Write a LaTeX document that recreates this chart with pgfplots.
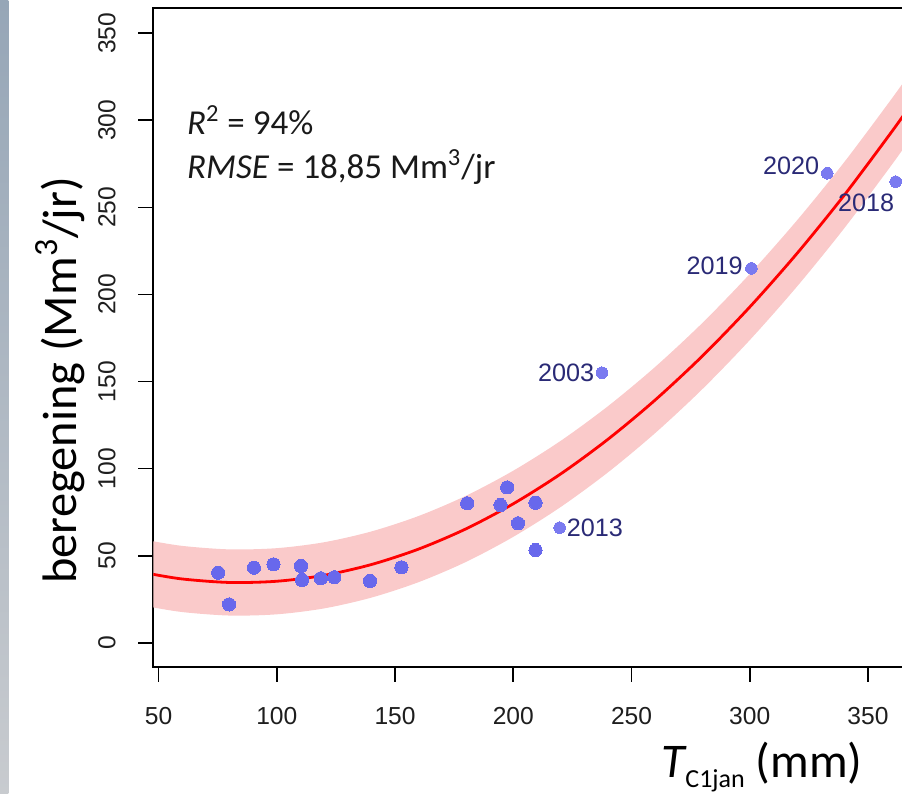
\documentclass[border=0pt]{standalone}
\usepackage{pgfplots}
\pgfplotsset{compat=1.18}
\usepgfplotslibrary{fillbetween}
\usepackage{fontspec}
\setmainfont{Carlito}
\newfontfamily\arialf{Liberation Sans}
\definecolor{bandcol}{RGB}{250,202,202}
\definecolor{ptcol}{RGB}{104,104,236}
\definecolor{ptcolb}{RGB}{122,122,240}
\definecolor{yearcol}{RGB}{42,42,118}
\definecolor{tickgray}{RGB}{30,30,30}
\definecolor{stripA}{RGB}{150,166,183}
\definecolor{stripB}{RGB}{200,203,207}
\begin{document}
\begin{tikzpicture}
\shade[top color=stripA, bottom color=stripB] (-76.65pt,-63.65pt) rectangle (-72.4pt,333.35pt);
\begin{axis}[
  scale only axis, width=376.3pt, height=329.2pt,
  xmin=47.76, xmax=366.03, ymin=-13.78, ymax=364.36,
  axis line style={line width=0.9pt, black},
  tick style={line width=0.9pt, black},
  tick align=outside, tick pos=left, major tick length=7.5pt,
  xtick={50,100,...,350}, ytick={0,50,...,350},
  /pgf/number format/assume math mode=true,
  tick label style={font=\arialf\fontsize{12.3}{14}\selectfont, text=tickgray},
  yticklabel style={rotate=90, anchor=base, inner sep=0pt},
  xticklabel style={anchor=north, inner sep=0pt},
  yticklabel shift=11.5pt,
  xticklabel shift=12.75pt,
  xlabel={{\itshape T}\raisebox{-5pt}{\fontsize{13}{15}\selectfont C1jan} (mm)},
  ylabel={beregening (Mm\textsuperscript{3}/jr)},
  label style={font=\fontsize{24.2}{28}\selectfont},
  xlabel style={at={(axis description cs:0.809,-0.169)}, anchor=base, inner sep=0pt},
  ylabel style={at={(axis description cs:-0.1027,0.435)}, anchor=base, inner sep=0pt, rotate=0},
]
% band (fit +/- RMSE)
\addplot[draw=none, name path=U, smooth] coordinates {
 (46,58.7) (60,55.6) (80,53.6) (100,54.3) (120,57.7) (140,63.9) (160,72.8)
 (180,84.4) (200,98.8) (220,115.9) (240,135.8) (260,158.4) (280,183.7)
 (300,211.8) (320,242.6) (340,276.1) (360,312.4) (368,327.7)};
\addplot[draw=none, name path=L, smooth] coordinates {
 (46,20.7) (60,17.6) (80,15.6) (100,16.3) (120,19.7) (140,25.9) (160,34.8)
 (180,46.4) (200,60.8) (220,77.9) (240,97.8) (260,120.4) (280,145.7)
 (300,173.8) (320,204.6) (340,238.1) (360,274.4) (368,289.7)};
\addplot[bandcol, draw=none] fill between[of=U and L];
% fitted curve
\addplot[red, line width=1.4pt, smooth] coordinates {
 (46,39.7) (60,36.6) (80,34.6) (100,35.3) (120,38.7) (140,44.9) (160,53.8)
 (180,65.4) (200,79.8) (220,96.9) (240,116.8) (260,139.4) (280,164.7)
 (300,192.8) (320,223.6) (340,257.1) (360,293.4) (368,308.7)};
% observations
\addplot[only marks, color=ptcol, mark=*, mark size=3.3pt, mark options={draw=ptcol, fill=ptcol, line width=0pt}] coordinates {
 (75.2,40.2) (79.8,22.0) (90.3,43.1) (98.6,45.0) (110.2,44.1) (110.7,36.0)
 (118.6,37.0) (124.3,37.6) (139.4,35.4) (152.7,43.3) (180.5,80.1) (194.6,79.1)
 (197.4,89.2) (202.0,68.6) (209.4,80.4) (209.4,53.2)};
\addplot[only marks, color=ptcolb, mark=*, mark size=2.9pt, mark options={draw=ptcolb, fill=ptcolb, line width=0pt}] coordinates {
 (219.6,66.1) (237.5,155.1) (300.7,215.0) (332.8,269.6) (361.7,264.8)};
% year labels
\begin{scope}[every node/.style={font=\arialf\fontsize{12.6}{14}\selectfont, text=yearcol, inner sep=0pt}]
\node[anchor=west, xshift=3.4pt] at (axis cs:219.6,66.1) {2013};
\node[anchor=east, xshift=-3.65pt] at (axis cs:237.5,155.1) {2003};
\node[anchor=east, xshift=-4.2pt, yshift=1.25pt] at (axis cs:300.7,215.0) {2019};
\node[anchor=east, xshift=-3.85pt, yshift=3.75pt] at (axis cs:332.8,269.6) {2020};
\node[anchor=east, xshift=-0.5pt, yshift=-10.8pt] at (axis cs:361.7,264.8) {2018};
\end{scope}
% statistics
\node[anchor=base west, inner sep=0pt, font=\fontsize{17.5}{20}\selectfont, text=black!90]
  at (axis description cs:0.0444,0.8086) {\textit{R}\textsuperscript{2} = 94\%};
\node[anchor=base west, inner sep=0pt, font=\fontsize{17.5}{20}\selectfont, text=black!90]
  at (axis description cs:0.0444,0.7418) {\textit{RMSE} = 18,85 Mm\textsuperscript{3}/jr};
\end{axis}
\pgfresetboundingbox
\path[use as bounding box] (-76.65pt,-63.65pt) rectangle (374.35pt,333.35pt);
\end{tikzpicture}
\end{document}
